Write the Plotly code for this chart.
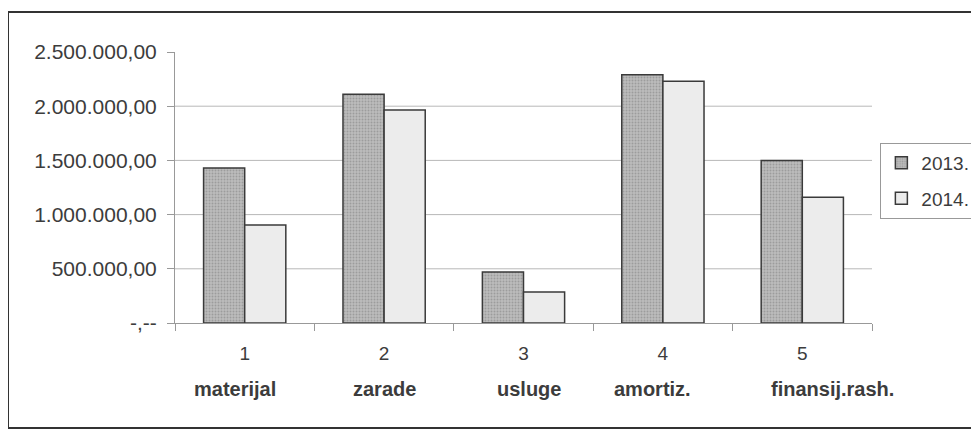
import plotly.graph_objects as go

categories = ["1", "2", "3", "4", "5"]
names = ["materijal", "zarade", "usluge", "amortiz.", "finansij.rash."]
name_shift = [-10, 0, 5, -10, 30]
values_2013 = [1430000, 2110000, 470000, 2290000, 1500000]
values_2014 = [905000, 1965000, 285000, 2230000, 1160000]
series_names = ["2013.", "2014."]
y_tickvals = [0, 500000, 1000000, 1500000, 2000000, 2500000]
y_ticktext = ["-,--", "500.000,00", "1.000.000,00", "1.500.000,00", "2.000.000,00", "2.500.000,00"]

FONT = "Liberation Sans, Arial, sans-serif"
TXT = "#3c3c3c"

fig = go.Figure()
fig.add_trace(go.Bar(
    x=categories, y=values_2013, name=series_names[0], legendgroup="a",
    marker=dict(color="#b0b0b0", line=dict(color="#3a3a3a", width=1.5),
                pattern=dict(shape=".", fgcolor="#7c7c7c", bgcolor="#bcbcbc", size=3, solidity=0.35)),
))
fig.add_trace(go.Bar(
    x=categories, y=values_2014, name=series_names[1], legendgroup="b",
    marker=dict(color="#ececec", line=dict(color="#3a3a3a", width=1.5)),
))

shapes = []
for v in y_tickvals[1:-1]:
    shapes.append(dict(type="line", xref="paper", yref="y", x0=0, x1=1, y0=v, y1=v,
                       line=dict(color="#b8b8b8", width=1), layer="below"))
shapes.append(dict(type="rect", xref="paper", yref="paper", x0=-0.2396, x1=1.17,
                   y0=-0.3875, y1=1.1476, line=dict(color="#333333", width=2)))

annotations = []
for i, (n, s) in enumerate(zip(names, name_shift)):
    annotations.append(dict(x=i, xref="x", y=-0.2435, yref="paper", text="<b>" + n + "</b>",
                            showarrow=False, xshift=s, yanchor="middle", xanchor="center",
                            font=dict(family=FONT, size=20, color=TXT)))

fig.update_layout(
    width=971, height=421,
    margin=dict(l=167, r=107, t=44, b=106, autoexpand=False),
    paper_bgcolor="white", plot_bgcolor="white",
    barmode="group", bargap=0.41, bargroupgap=0,
    font=dict(family=FONT, size=19, color=TXT),
    showlegend=True,
    legend=dict(x=1.012, y=0.665, xanchor="left", yanchor="top",
                bordercolor="#999999", borderwidth=1, bgcolor="white",
                tracegroupgap=8, itemwidth=30,
                font=dict(family=FONT, size=19, color=TXT)),
    shapes=shapes, annotations=annotations,
)
fig.update_xaxes(type="category", showline=True, linecolor="#999999", linewidth=1,
                 ticks="outside", tickson="boundaries", ticklen=7, tickcolor="#999999",
                 showgrid=False, ticklabelstandoff=13, automargin=False,
                 range=[-0.5, 4.5],
                 tickfont=dict(family=FONT, size=19, color=TXT))
fig.update_yaxes(range=[0, 2500000], tickvals=y_tickvals, ticktext=y_ticktext,
                 showline=True, linecolor="#999999", linewidth=1,
                 ticks="outside", ticklen=7, tickcolor="#999999",
                 showgrid=False, zeroline=False, ticklabelstandoff=6, automargin=False,
                 tickfont=dict(family=FONT, size=21, color=TXT))

fig.write_html("out.html")
